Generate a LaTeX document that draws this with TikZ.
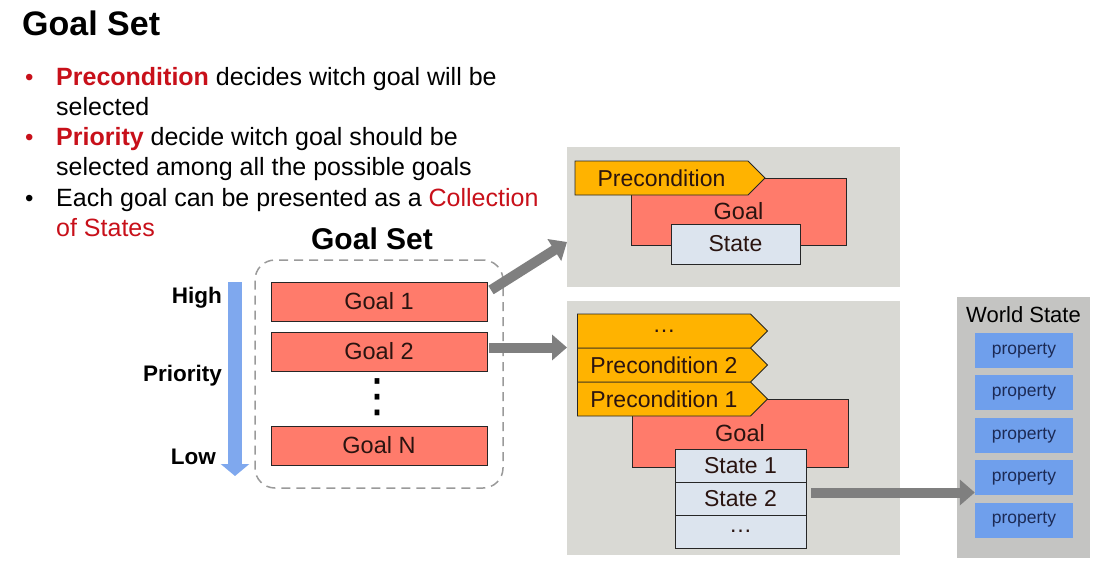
\documentclass[tikz,border=0pt]{standalone}
\usepackage{fontspec}
\setmainfont{Liberation Sans}
\newfontfamily\symfont{DejaVu Sans}
\usetikzlibrary{arrows.meta, positioning, shapes.symbols}

\definecolor{hired}{HTML}{C8101A}
\definecolor{goalred}{HTML}{FF7B6B}
\definecolor{preorange}{HTML}{FFB300}
\definecolor{statebg}{HTML}{DCE4EE}
\definecolor{panelgray}{HTML}{D9D9D4}
\definecolor{wsgray}{HTML}{C4C4C2}
\definecolor{propblue}{HTML}{6F9FEC}
\definecolor{propnavy}{HTML}{1C2A55}
\definecolor{prioblue}{HTML}{7FA8EE}
\definecolor{arrowgray}{HTML}{7F7F7F}
\definecolor{dashgray}{HTML}{9A9A9A}
\definecolor{boxtext}{HTML}{2A1410}

\newcommand{\fsz}[1]{\fontsize{#1}{#1}\selectfont}

\begin{document}
\begin{tikzpicture}[x=1pt, y=-1pt, node distance=0pt,
  bullettext/.style={align=left, inner sep=0pt, font=\fontsize{25}{30}\selectfont},
  goalbox/.style={draw=black!85, line width=0.8pt, fill=goalred, text=boxtext, minimum width=216pt, minimum height=39pt, inner sep=0pt, outer sep=0pt, font=\fsz{23.5}},
  goalbig/.style={draw=black!85, line width=0.8pt, fill=goalred, text=boxtext, inner sep=0pt, outer sep=0pt, font=\fsz{23.5}},
  precond/.style={signal, signal to=east, signal pointer angle=90, draw=black!85, line width=0.8pt, fill=preorange, text=boxtext, minimum width=190pt, minimum height=34pt, inner sep=0pt, outer sep=0pt, font=\fsz{23}},
  statebox/.style={draw=black!85, line width=0.8pt, fill=statebg, text=boxtext, minimum width=131pt, minimum height=33pt, inner sep=0pt, outer sep=0pt, font=\fsz{23}},
  panel/.style={fill=panelgray, minimum width=333pt, inner sep=0pt, outer sep=0pt},
  propbox/.style={fill=propblue, text=propnavy, minimum width=98pt, minimum height=35pt, inner sep=0pt, font=\fsz{17.5}},
  prio/.style={anchor=east, inner sep=0pt, font=\bfseries\fsz{22.5}},
  bigarrow/.style={draw=arrowgray, line width=10pt, -{Triangle[length=15pt, width=25pt]}},
  setframe/.style={draw=dashgray, line width=1.5pt, dash pattern=on 9pt off 6pt, rounded corners=20pt}]
\fill[white] (0,0) rectangle (1103,571);
\useasboundingbox (0,0) rectangle (1103,571);

% heading and bullet list
\node[anchor=base west, inner sep=0pt, font=\bfseries\fsz{34}] (title) at (22,35) {Goal Set};
\node[anchor=base west, inner sep=0pt, text=hired, font=\fsz{24}] (dot1) at (25,85) {•};
\node[anchor=base west, bullettext] (item1) at (56,115) {\textcolor{hired}{\textbf{Precondition}} decides witch goal will be\\selected};
\node[anchor=base west, inner sep=0pt, text=hired, font=\fsz{24}] (dot2) at (25,145) {•};
\node[anchor=base west, bullettext] (item2) at (56,175) {\textcolor{hired}{\textbf{Priority}} decide witch goal should be\\selected among all the possible goals};
\node[anchor=base west, inner sep=0pt, font=\fsz{24}] (dot3) at (25,206) {•};
\node[anchor=base west, bullettext] (item3) at (56,236) {Each goal can be presented as a \textcolor{hired}{Collection}\\\textcolor{hired}{of States}};

% goal set
\node[font=\bfseries\fsz{30}] (setlabel) at (372,239) {Goal Set};
\node[setframe, minimum width=248pt, minimum height=228pt] (frame) at (379,374) {};
\node[goalbox] (g1) at (379,301.5) {Goal 1};
\node[goalbox, below=11pt of g1] (g2) {Goal 2};
\node[goalbox, below=55pt of g2] (gN) {Goal N};
\node[inner sep=0pt, font=\symfont\fsz{46}] (gdots) at (377,397) {⋮};

% priority
\coordinate (ptop) at (235,282);
\coordinate (pbot) at (235,476);
\draw[draw=prioblue, line width=14pt, -{Triangle[length=12pt, width=28pt]}] (ptop) -- (pbot);
\node[prio] (high) at (222,298) {High};
\node[prio] (prio) at (222,376) {Priority};
\node[prio] (low) at (216,457) {Low};

% one goal
\node[panel, minimum height=140pt] (upper) at (733.5,217) {};
\node[goalbig, minimum width=215pt, minimum height=67pt] (ugoal) at (738.5,211.5) {Goal};
\node[precond] (upre) at (661.5,178) {Precondition};
\node[statebox, minimum width=129pt, minimum height=40pt] (ustate) at (735.5,244) {State};

% goal with preconditions and states
\node[panel, minimum height=254pt] (lower) at (733.5,428) {};
\node[goalbig, minimum width=216pt, minimum height=68pt] (lgoal) at (740,433) {Goal};
\node[precond] (pre1) at (664,399) {Precondition 1};
\node[precond, above=of pre1] (pre2) {Precondition 2};
\node[precond, above=of pre2] (pre3) {…};
\node[statebox] (st1) at (740.5,465.5) {State 1};
\node[statebox, below=of st1] (st2) {State 2};
\node[statebox, below=of st2] (st3) {…};

% world state
\node[panel, fill=wsgray, minimum width=133pt, minimum height=261pt] (world) at (1023.5,427.5) {};
\node[font=\fsz{22}] (wtitle) at (1023.5,315) {World State};
\node[propbox] (prop1) at (1024,350.5) {property};
\node[propbox, below=7pt of prop1] (prop2) {property};
\node[propbox, below=7pt of prop2] (prop3) {property};
\node[propbox, below=7pt of prop3] (prop4) {property};
\node[propbox, below=7pt of prop4] (prop5) {property};

% connectors
\draw[bigarrow] ([xshift=4pt, yshift=-8pt]g1.north east) -- ([yshift=-25pt]upper.west);
\draw[bigarrow] ([xshift=2pt, yshift=4pt]g2.east) -- ([yshift=4pt]g2.east -| lower.west);
\draw[bigarrow] ([xshift=5pt, yshift=6pt]st2.east) -- ([yshift=6pt]st2.east -| prop4.west);
\end{tikzpicture}
\end{document}
